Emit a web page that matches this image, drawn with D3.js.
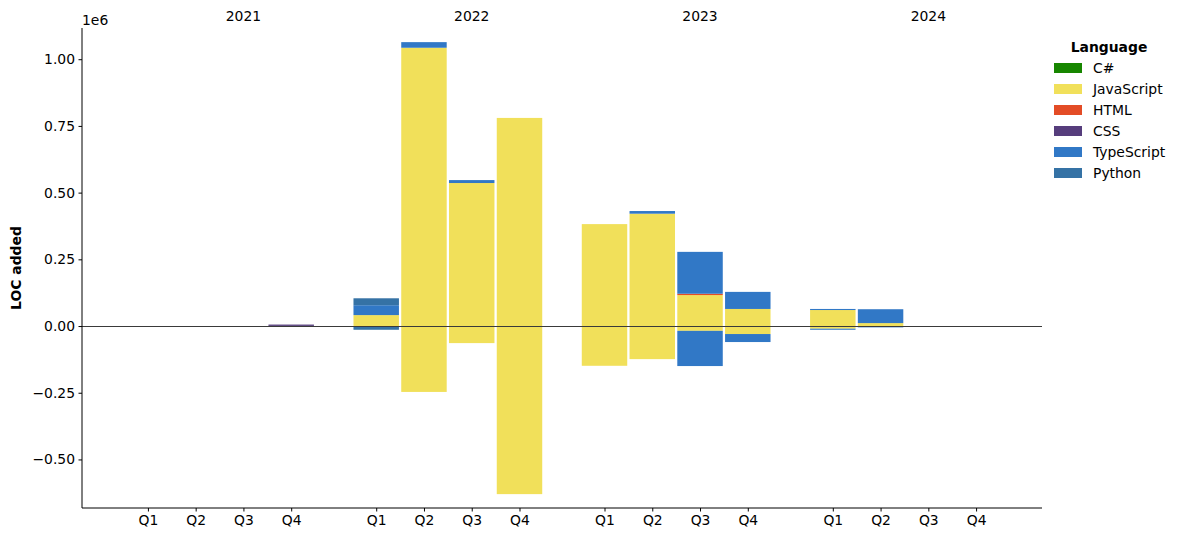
<!DOCTYPE html>
<html><head><meta charset="utf-8">
<script src="https://cdn.jsdelivr.net/npm/d3@7"></script>
<style>body{margin:0;background:#fff}svg{font-family:"DejaVu Sans",sans-serif}</style>
</head><body><svg id="c" width="1180" height="542"></svg>
<script>
const years = ["2021","2022","2023","2024"];
const quarters = ["Q1","Q2","Q3","Q4"];
const languages = ["C#","JavaScript","HTML","CSS","TypeScript","Python"];
const colors = ["#178600","#f1e05a","#e34c26","#563d7c","#3178c6","#3572a5"];
// values per language, 16 periods (2021Q1..2024Q4), positive = added, negative = removed
const csharp     = [0,0,0,0.0005e6, 0,0,0,0, 0,0,0,0, 0,0,0,0];
const javascript = [0,0,0,0, 0.041e6,1.043e6,0.536e6,0.780e6, 0.382e6,0.421e6,0.116e6,0.064e6, 0.060e6,0.011e6,0,0];
const html       = [0,0,0,0, 0,0,0,0, 0,0,0.005e6,0, 0,0,0,0];
const css        = [0,0,0,0.005e6, 0,0,0,0, 0,0,0,0, 0,0,0,0];
const typescript = [0,0,0,0, 0.037e6,0.021e6,0.011e6,0, 0,0.010e6,0.157e6,0.064e6, 0.004e6,0.052e6,0,0];
const python     = [0,0,0,0, 0.026e6,0,0,0, 0,0,0,0, 0,0,0,0];
const javascriptNeg = [0,0,0,0, 0,-0.247e6,-0.064e6,-0.630e6, -0.149e6,-0.124e6,-0.018e6,-0.030e6, -0.010e6,0,0,0];
const typescriptNeg = [0,0,0,0, 0,0,0,0, 0,0,-0.132e6,-0.030e6, -0.004e6,-0.005e6,0,0];
const pythonNeg     = [0,0,0,0, -0.014e6,0,0,0, 0,0,0,0, 0,0,0,0];

const posSeries = [csharp, javascript, html, css, typescript, python];
const negSeries = [[], javascriptNeg, [], [], typescriptNeg, pythonNeg];

const FS = 13.9;
const svg = d3.select("#c");
const L = 82, R = 1042, T = 28, B = 508;
const yearStep = 4.78;
const posOf = i => Math.floor(i/4)*yearStep + (i%4);
const x = d3.scaleLinear().domain([-1.38, 3*yearStep+3+1.38]).range([L, R]);
const y = d3.scaleLinear().domain([-0.682e6, 1.117e6]).range([B, T]);
const bw = 0.952 * (x(1)-x(0));

// bars
const g = svg.append("g");
for (let i = 0; i < 16; i++) {
  let up = 0, down = 0;
  languages.forEach((lang, k) => {
    const v = posSeries[k][i] || 0;
    if (v > 0) {
      g.append("rect").attr("x", x(posOf(i)) - bw/2).attr("width", bw)
        .attr("y", y(up + v)).attr("height", y(up) - y(up + v)).attr("fill", colors[k]);
      up += v;
    }
    const n = (negSeries[k][i]) || 0;
    if (n < 0) {
      g.append("rect").attr("x", x(posOf(i)) - bw/2).attr("width", bw)
        .attr("y", y(down)).attr("height", y(down + n) - y(down)).attr("fill", colors[k]);
      down += n;
    }
  });
}

// zero line
const y0 = Math.round(y(0)) + 0.5;
svg.append("line").attr("x1", L).attr("x2", R).attr("y1", y0).attr("y2", y0)
  .attr("stroke", "#3a3a3a").attr("stroke-width", 1);

// axes
const yAxis = d3.axisLeft(y).tickValues([-0.5e6,-0.25e6,0,0.25e6,0.5e6,0.75e6,1e6])
  .tickFormat(d => d3.format(".2f")(d/1e6).replace("-", "\u2212")).tickSizeOuter(0).tickSize(3.5).tickPadding(3.5);
const ya = svg.append("g").attr("transform", `translate(${L},0)`).call(yAxis);
ya.select(".domain").attr("d", `M0,${T}V${B}`).attr("stroke", "#000");
ya.selectAll("text").attr("font-size", FS).attr("fill", "#000").attr("font-family", "DejaVu Sans");

const tickPos = d3.range(16).map(posOf);
const xAxis = d3.axisBottom(x).tickValues(tickPos).tickFormat((d, i) => quarters[i%4]).tickSizeOuter(0).tickSize(3.5).tickPadding(3.5);
const xa = svg.append("g").attr("transform", `translate(0,${B})`).call(xAxis);
xa.select(".domain").attr("d", `M${L},0H${R}`).attr("stroke", "#000");
xa.selectAll("text").attr("font-size", FS).attr("fill", "#000").attr("font-family", "DejaVu Sans");

// year labels
years.forEach((yr, j) => {
  svg.append("text").attr("x", x(j*yearStep + 2)).attr("y", 21).attr("text-anchor", "middle")
    .attr("font-size", FS).text(yr);
});

// offset text
svg.append("text").attr("x", L).attr("y", 25).attr("font-size", FS).text("1e6");

// y label
svg.append("text").attr("transform", `translate(21,${(T+B)/2}) rotate(-90)`)
  .attr("text-anchor", "middle").attr("font-size", FS).attr("font-weight", "bold").text("LOC added");

// legend
const lg = svg.append("g");
lg.append("text").attr("x", 1109).attr("y", 52).attr("text-anchor", "middle")
  .attr("font-size", FS).attr("font-weight", "bold").text("Language");
languages.forEach((lang, k) => {
  const cy = 68 + k*21;
  lg.append("rect").attr("x", 1054).attr("y", cy - 5).attr("width", 28).attr("height", 10).attr("fill", colors[k]);
  lg.append("text").attr("x", 1093).attr("y", cy + 5).attr("font-size", FS).text(lang);
});
</script></body></html>
